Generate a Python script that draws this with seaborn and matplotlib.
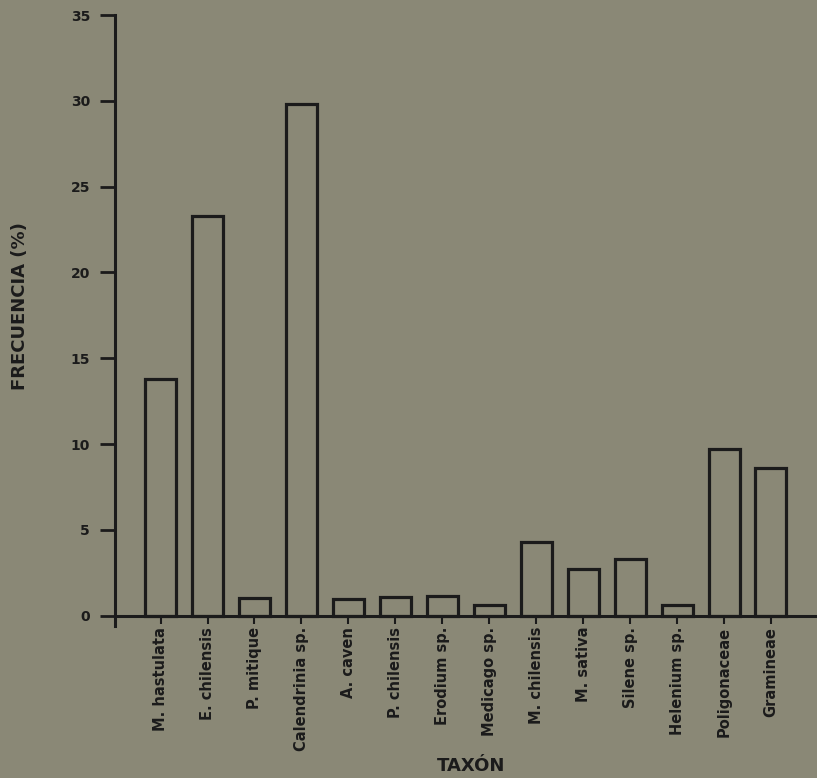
import matplotlib
matplotlib.use("Agg")
import matplotlib.pyplot as plt
import seaborn as sns
import pandas as pd

categories = ["M. hastulata", "E. chilensis", "P. mitique", "Calendrinia sp.",
              "A. caven", "P. chilensis", "Erodium sp.", "Medicago sp.",
              "M. chilensis", "M. sativa", "Silene sp.", "Helenium sp.",
              "Poligonaceae", "Gramineae"]
frecuencia = [13.8, 23.3, 1.05, 29.8, 1.0, 1.1, 1.15, 0.65,
              4.3, 2.7, 3.3, 0.6, 9.7, 8.6]
yticks = [0, 5, 10, 15, 20, 25, 30, 35]

bg = "#8a8876"
ink = "#1b1b1b"

sns.set_theme(style="ticks")
plt.rcParams['font.family'] = ['DejaVu Sans']

df = pd.DataFrame({"taxon": categories, "frec": frecuencia})

fig = plt.figure(figsize=(8.17, 7.78), dpi=100, facecolor=bg)
ax = fig.add_axes([0.1408, 0.1954, 0.8592, 0.7853])
ax.set_facecolor(bg)

sns.barplot(data=df, x="taxon", y="frec", ax=ax, fill=False, color=ink,
            width=0.66, linewidth=2.3, errorbar=None)

ax.set_xlim(-0.97, 13.98)
ax.set_ylim(-0.6, 35)
ax.set_yticks(yticks)
ax.set_yticklabels([str(v) for v in yticks], fontsize=10, fontweight="bold", color=ink)

for s in ["top", "right"]:
    ax.spines[s].set_visible(False)
ax.spines["left"].set_bounds(-0.6, 35)
ax.spines["bottom"].set_position(("data", 0))
for s in ["left", "bottom"]:
    ax.spines[s].set_color(ink)
    ax.spines[s].set_linewidth(2.2)

ax.tick_params(axis="y", direction="out", length=11, width=2, color=ink, pad=7)
ax.tick_params(axis="x", direction="out", length=6, width=1.5, color=ink, pad=2)
plt.setp(ax.get_xticklabels(), rotation=90, fontsize=10.5, fontweight="bold",
         color=ink)

ax.set_xlabel("TAXÓN", fontsize=13, fontweight="bold", color=ink)
ax.set_ylabel("FRECUENCIA (%)", fontsize=13, fontweight="bold", color=ink)
ax.xaxis.set_label_coords(0.507, -0.215)
ax.yaxis.set_label_coords(-0.123, 0.524)

fig.savefig("out.png", dpi=100, facecolor=bg)
